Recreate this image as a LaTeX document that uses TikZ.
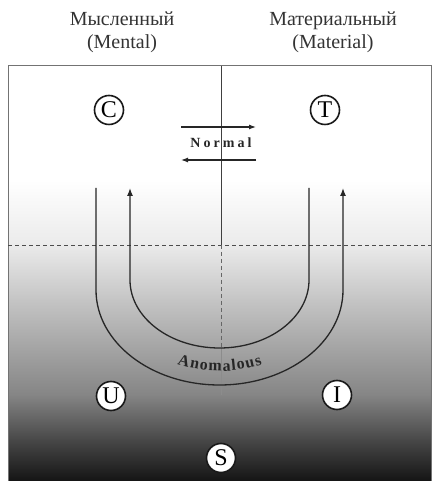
\documentclass[tikz,border=0pt]{standalone}
\usepackage{fontspec}
\setmainfont{Liberation Serif}
\usetikzlibrary{arrows.meta}
\begin{document}
\begin{tikzpicture}[x=1pt,y=1pt,
  circ/.style={circle,draw=black!90,line width=1.6pt,fill=white,minimum size=29pt,inner sep=0pt,font=\fontsize{24}{24}\selectfont},
  ulin/.style={line width=1.3pt,draw=black!85},
  tipped/.style={-{Latex[length=8pt,width=6pt]}},
  narrow/.style={line width=1.2pt,draw=black!85,-{Latex[length=7pt,width=5pt]}},
  hdr/.style={align=center,font=\fontsize{20}{23}\selectfont,text=black!80},
]
\useasboundingbox (0,0) rectangle (433,481);
% background gradient
\fill[white] (8,300) rectangle (431,415);
\shade[top color=white,bottom color=black!8] (8,235.5) rectangle (431,301);
\shade[top color=black!8,bottom color=black!23] (8,180.5) rectangle (431,236);
\shade[top color=black!23,bottom color=black!48] (8,85.5) rectangle (431,181);
\shade[top color=black!48,bottom color=black!72] (8,40.5) rectangle (431,86);
\shade[top color=black!72,bottom color=black!92] (8,0) rectangle (431,41);
\draw[black!55,line width=1pt] (8,0) -- (8,415) -- (431,415) -- (431,0);
% headers
\node[hdr] (hm) at (122,449) {Мысленный\\(Mental)};
\node[hdr] (hr) at (333,449) {Материальный\\(Material)};
% dashed horizontal
\coordinate (dl) at (8,236);
\coordinate (dr) at (431,236);
\draw[black!70,line width=0.8pt,dash pattern=on 4pt off 3pt] (dl) -- (dr);
% center line
\coordinate (ctop) at (221,415);
\coordinate (cmid) at (221,236);
\coordinate (cbot) at (221,133);
\coordinate (cend) at (221,86);
\draw[black!75,line width=0.9pt] (ctop) -- (cmid);
\draw[black!60,line width=0.9pt,dash pattern=on 4pt off 3pt] (cmid) -- (cbot);
\draw[black!45,line width=0.5pt] (cbot) -- (cend);
% U curves
\coordinate (oL) at (96,293);
\coordinate (oR) at (343,293);
\coordinate (iR) at (309,293);
\coordinate (iL) at (130,293);
\draw[ulin,tipped] (oL) -- ++(0,-102) arc[start angle=180,end angle=360,x radius=123.5,y radius=95] -- (oR);
\draw[ulin,tipped] (iR) -- ++(0,-92) arc[start angle=0,end angle=-180,x radius=89.5,y radius=68] -- (iL);
% normal arrows
\coordinate (n1a) at (181,354);
\coordinate (n1b) at (256,354);
\coordinate (n2a) at (256,321);
\coordinate (n2b) at (181,321);
\draw[narrow] (n1a) -- (n1b);
\draw[narrow] (n2a) -- (n2b);
\node[font=\fontsize{14}{14}\bfseries\addfontfeature{LetterSpace=22},text=black!85] (normal) at (221,338) {Normal};
% anomalous text along arc
\foreach \ch/\xx [count=\i from 0] in {A/182.8,n/194.0,o/203.45,m/215.1,a/226.8,l/234.0,o/241.25,u/250.7,s/259.3} {
  \pgfmathsetmacro\t{360-acos((\xx-219.5)/108)}
  \pgfmathsetmacro\r{atan2(81*cos(\t),-108*sin(\t))}
  \node[font=\fontsize{16}{16}\bfseries,text=black!85,anchor=base,rotate=\r,inner sep=0pt] (anom\i) at ({219.5+108*cos(\t)},{191+81*sin(\t)}) {\ch};
}
% circled letters
\node[circ] (C) at (109,371) {C};
\node[circ] (T) at (325,371) {T};
\node[circ] (U) at (111,85) {U};
\node[circ] (I) at (337,86) {I};
\node[circ] (S) at (221,23) {S};
\end{tikzpicture}
\end{document}
